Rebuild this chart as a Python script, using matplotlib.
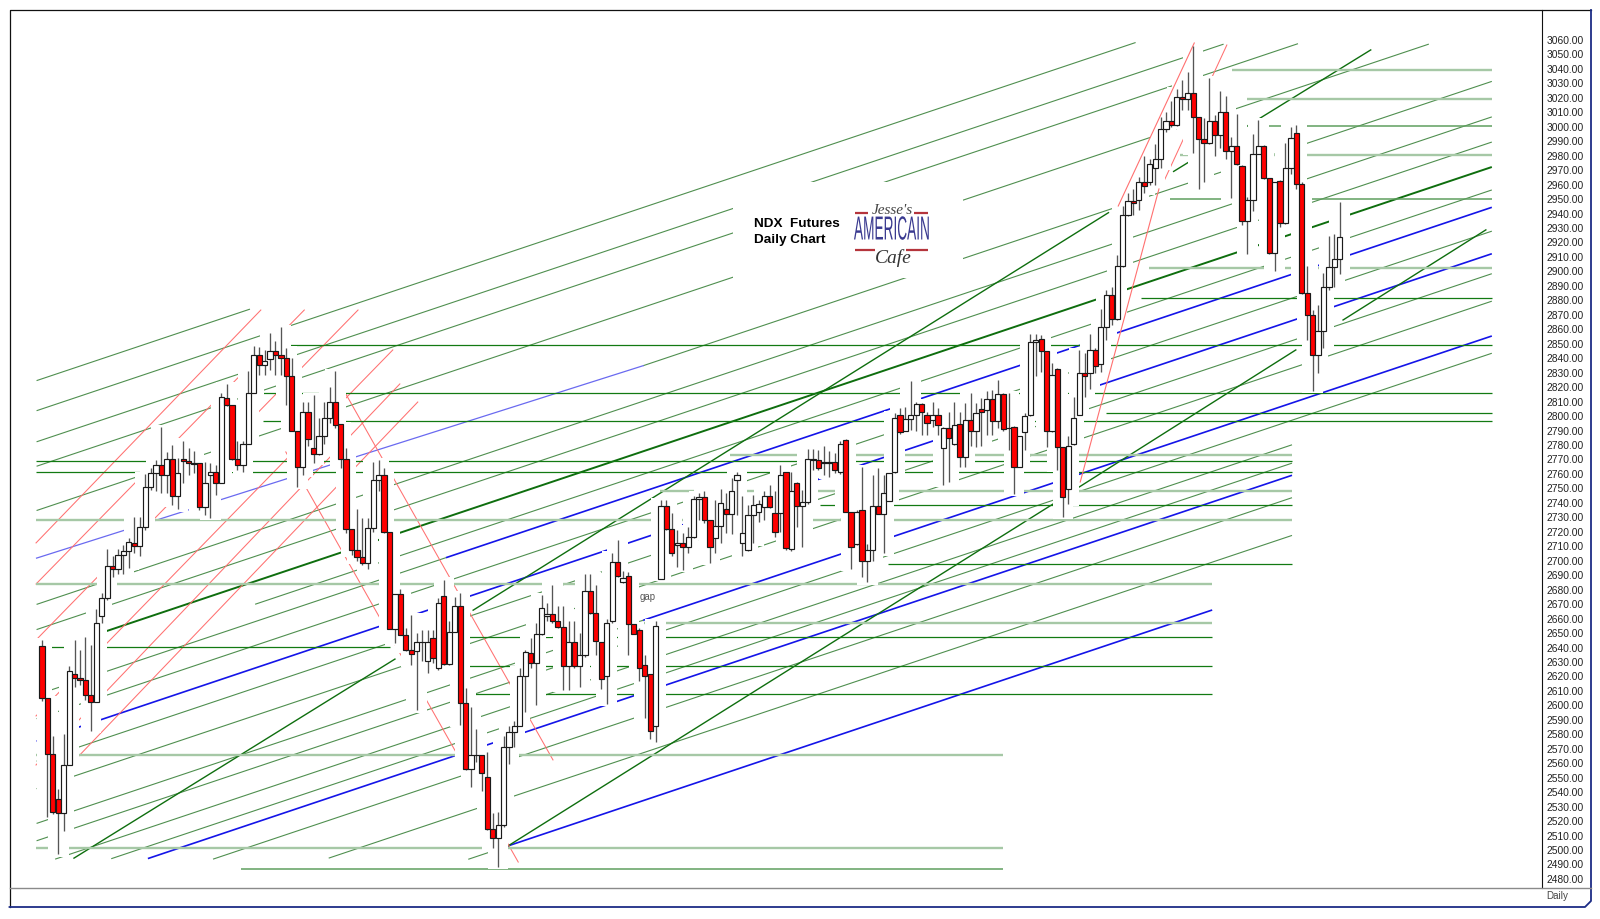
import numpy as np
import matplotlib
matplotlib.use('Agg')
import matplotlib.pyplot as plt
from matplotlib.patches import Rectangle
from matplotlib.patheffects import AbstractPathEffect
from matplotlib.transforms import Affine2D

plt.rcParams['font.family'] = ['Liberation Sans', 'DejaVu Sans']

# daily candles
opens = [2641, 2605, 2566.5, 2535, 2525.5, 2559, 2621.5, 2619, 2617.5, 2607,
         2602.5, 2662, 2674, 2696.5, 2694.5, 2704, 2706.5, 2712.5, 2710.5, 2723,
         2751, 2760.5, 2766, 2759, 2770.5, 2744.5, 2770, 2769, 2767.5, 2767.5,
         2737, 2759.5, 2761.5, 2754, 2812.5, 2807.5, 2770, 2766.5, 2781, 2816,
         2842, 2835, 2839.5, 2845, 2842.5, 2840, 2827.5, 2789.5, 2765, 2803,
         2778, 2774, 2786, 2798.5, 2809.5, 2794.5, 2770, 2722, 2707.5, 2702.5,
         2698.5, 2722.5, 2755.5, 2759, 2720, 2652.5, 2677, 2648.5, 2638, 2637.5,
         2644, 2631, 2646.5, 2625.5, 2675.5, 2628.5, 2651, 2668.5, 2601.5, 2556,
         2566, 2566, 2550.5, 2514.5, 2508, 2517, 2571.5, 2581.5, 2586, 2620,
         2636.5, 2629, 2649.5, 2662, 2663.5, 2658, 2654.5, 2627, 2644, 2627,
         2634.5, 2679, 2664, 2643.5, 2620.5, 2658, 2699, 2685, 2689.5, 2656,
         2652, 2628, 2622, 2586, 2687.5, 2737.5, 2722, 2711, 2712.5, 2709.5,
         2716.5, 2743, 2744, 2728, 2716, 2724, 2735.5, 2732.5, 2756, 2712,
         2707.5, 2731.5, 2734, 2737, 2744.5, 2733, 2733, 2761, 2708, 2754,
         2738, 2740.5, 2769.5, 2769.5, 2767.5, 2767.5, 2768, 2761.5, 2783.5, 2734,
         2711.5, 2735, 2699.5, 2707.5, 2738, 2732.5, 2741, 2761, 2800.5, 2790,
         2798, 2801, 2808, 2801, 2797.5, 2801, 2778, 2792, 2781, 2794.5,
         2772, 2797, 2790, 2805, 2804, 2812, 2796.5, 2815, 2791.5, 2792.5,
         2765, 2789, 2800.5, 2851, 2853, 2845, 2789.5, 2832.5, 2778.5, 2749.5,
         2780.5, 2801, 2829.5, 2829.5, 2845.5, 2836, 2861.5, 2883.5, 2867, 2904,
         2939, 2949, 2949.5, 2961.5, 2961.5, 2971.5, 2977.5, 2998.5, 3004, 3001,
         3020.5, 3019.5, 3023, 3007, 2991.5, 2988.5, 3004, 2994.5, 3010.5, 2983,
         2986.5, 2973, 2935, 2949.5, 2981.5, 2986.5, 2964.5, 2912.5, 2962.5, 2933.5,
         2971.5, 2996, 2960.5, 2885, 2870, 2842.5, 2859, 2889.5, 2903, 2908.5]
highs = [2645, 2605, 2579, 2542, 2580, 2627, 2645, 2638, 2647, 2642,
         2666.5, 2677.5, 2708, 2703, 2708, 2711, 2715.5, 2730, 2730.5, 2760,
         2764, 2769.5, 2792.5, 2775, 2780, 2771, 2783, 2778, 2775.5, 2767.5,
         2768.5, 2767.5, 2766, 2816, 2822, 2807.5, 2783, 2783, 2831, 2848.5,
         2848, 2845.5, 2857.5, 2852, 2861.5, 2847, 2840, 2789.5, 2810, 2810,
         2814.5, 2798.5, 2810, 2820, 2831, 2794.5, 2778, 2722, 2735.5, 2729.5,
         2729.5, 2768, 2769.5, 2764, 2720, 2677, 2680.5, 2653.5, 2662.5, 2650,
         2652, 2652, 2652, 2674, 2687, 2658.5, 2675, 2677.5, 2612, 2599,
         2584, 2566, 2568, 2525.5, 2526, 2578.5, 2585.5, 2589, 2625.5, 2638.5,
         2646.5, 2657, 2676.5, 2671, 2683.5, 2668.5, 2668.5, 2658, 2658, 2650,
         2691, 2691, 2683.5, 2644, 2660, 2705, 2714, 2693, 2692, 2656,
         2653.5, 2635, 2622, 2658.5, 2742, 2742, 2733, 2721.5, 2719.5, 2723.5,
         2744.5, 2746.5, 2748.5, 2728, 2742, 2749.5, 2746.5, 2757, 2761.5, 2744.5,
         2738.5, 2745.5, 2742, 2748, 2752.5, 2748, 2766, 2761.5, 2761.5, 2754.5,
         2749, 2777.5, 2777.5, 2776.5, 2779, 2775.5, 2774.5, 2782.5, 2784, 2734,
         2735, 2765, 2711.5, 2759.5, 2764, 2759.5, 2760.5, 2802, 2805.5, 2806.5,
         2824, 2810, 2809, 2803, 2810, 2805.5, 2792.5, 2803, 2810, 2803,
         2809, 2816, 2809, 2812.5, 2817, 2818, 2825, 2816, 2816, 2793,
         2786, 2802, 2857, 2857, 2856, 2845, 2836.5, 2833, 2778.5, 2786,
         2813.5, 2845.5, 2843.5, 2857, 2847, 2874, 2887, 2889, 2911.5, 2945.5,
         2954, 2957, 2965.5, 2979.5, 2977.5, 2988, 3006.5, 3010.5, 3017.5, 3026,
         3032.5, 3037.5, 3055.5, 3007, 3006, 3033.5, 3008, 3024.5, 3021, 2993,
         3009, 2973.5, 2951.5, 2995, 3004.5, 2987.5, 2964.5, 2962, 2963, 2988.5,
         3000, 3001, 2962, 2903.5, 2873.5, 2877, 2899, 2924.5, 2926, 2948]
lows = [2603, 2523, 2525, 2497, 2513, 2559, 2612.5, 2614, 2604, 2582.5,
        2602.5, 2657, 2673, 2689, 2691, 2691, 2695, 2705, 2703, 2721,
        2749, 2748, 2747, 2747, 2738.5, 2735.5, 2754, 2759.5, 2760.5, 2735,
        2731.5, 2729.5, 2745.5, 2754, 2807, 2769.5, 2762.5, 2761.5, 2781, 2816,
        2828.5, 2828.5, 2832, 2828.5, 2828.5, 2807.5, 2789.5, 2751, 2759.5, 2779,
        2767.5, 2773, 2781, 2795, 2791.5, 2764, 2719, 2704, 2699.5, 2697,
        2694, 2720, 2748, 2719, 2652.5, 2643, 2648.5, 2637.5, 2628, 2596.5,
        2630.5, 2622.5, 2629, 2624.5, 2628, 2628, 2651, 2586.5, 2555.5, 2543.5,
        2561, 2540.5, 2514, 2501.5, 2488.5, 2516, 2559.5, 2571.5, 2585.5, 2595.5,
        2625.5, 2600.5, 2648.5, 2658, 2657, 2653.5, 2610.5, 2610.5, 2625.5, 2612.5,
        2633.5, 2663.5, 2635, 2611, 2601, 2657, 2689, 2684.5, 2634.5, 2649,
        2617, 2591, 2576.5, 2574.5, 2687.5, 2721.5, 2703, 2696, 2693.5, 2705,
        2715.5, 2728, 2726, 2698.5, 2705, 2712, 2719, 2718.5, 2731.5, 2703,
        2706.5, 2712, 2727, 2728, 2736.5, 2716.5, 2720, 2707.5, 2706.5, 2723.5,
        2709.5, 2739.5, 2763, 2763, 2759.5, 2758, 2760.5, 2760, 2733.5, 2694.5,
        2711, 2689, 2685, 2700, 2732.5, 2705, 2741, 2760.5, 2787.5, 2789.5,
        2790.5, 2789.5, 2787, 2787, 2792.5, 2787, 2752.5, 2754.5, 2780, 2765,
        2765, 2779, 2778.5, 2779.5, 2787, 2787, 2791.5, 2790, 2776.5, 2746,
        2764.5, 2776.5, 2800, 2827.5, 2830.5, 2778.5, 2789, 2763, 2730, 2739.5,
        2780, 2800.5, 2813.5, 2819, 2829.5, 2830.5, 2852.5, 2863, 2866.5, 2903,
        2938.5, 2939, 2942.5, 2954, 2960, 2960, 2971.5, 2996.5, 3000, 3000.5,
        3011.5, 3011.5, 2982, 2957, 2962, 2988, 2980, 2985, 2978, 2951,
        2973.5, 2932, 2912, 2941.5, 2981, 2964, 2912, 2900.5, 2930.5, 2933,
        2967.5, 2957, 2884.5, 2852.5, 2817.5, 2830, 2847, 2887, 2889.5, 2898]
closes = [2605, 2566.5, 2526, 2525.5, 2559, 2623.5, 2619, 2617.5, 2607, 2602.5,
          2657, 2674, 2696.5, 2694.5, 2704, 2706.5, 2713, 2710.5, 2723, 2751,
          2760.7, 2766, 2759, 2770.5, 2744.5, 2760.5, 2769, 2767.5, 2767, 2737,
          2753.5, 2761.5, 2754, 2813, 2807.5, 2770, 2766.5, 2781, 2816, 2842,
          2835, 2838, 2845, 2842.5, 2840, 2827.5, 2789.5, 2765, 2803, 2784,
          2774, 2786, 2798.5, 2809.5, 2794, 2770, 2722, 2707.5, 2702.5, 2698.5,
          2722.5, 2755.5, 2759, 2720, 2652.5, 2677, 2648.5, 2638, 2635.5, 2644,
          2644, 2644, 2632.5, 2671, 2628.5, 2651, 2668.5, 2601.5, 2556, 2566,
          2566, 2553.5, 2514.5, 2508, 2517, 2571.5, 2581.5, 2586, 2620, 2637,
          2629, 2649.5, 2667.5, 2663.5, 2658, 2654.5, 2627, 2644, 2627, 2634.5,
          2679, 2664, 2644.5, 2618.5, 2657, 2699, 2689.5, 2688, 2656, 2649,
          2626, 2620.5, 2582, 2655, 2737.5, 2722, 2705, 2712.5, 2709.5, 2716.5,
          2742.5, 2744, 2728, 2709.5, 2724, 2740, 2732.5, 2748, 2759.5, 2719,
          2731.5, 2738.5, 2739.5, 2744.5, 2737, 2720, 2759, 2708.5, 2748, 2738,
          2740.5, 2770.5, 2770.5, 2764, 2768.5, 2768, 2762.5, 2780.5, 2734, 2709.5,
          2734, 2699.5, 2707.5, 2738, 2732.5, 2746.5, 2760.5, 2799, 2789, 2798,
          2801, 2808, 2803, 2795.5, 2801, 2794, 2792, 2784.5, 2793.5, 2772,
          2797, 2790, 2802, 2803, 2812, 2796.5, 2815, 2791, 2792, 2765,
          2786, 2800, 2851, 2852.5, 2845, 2789.5, 2828.5, 2778.5, 2744, 2779,
          2798.5, 2829.5, 2828, 2845.5, 2834.5, 2861.5, 2883.5, 2867, 2904, 2939,
          2949, 2947.5, 2961.5, 2959, 2974.5, 2977.5, 2998.5, 3004, 3001, 3020.5,
          3019, 3023, 3007, 2991.5, 2988.5, 3004, 2994.5, 3010.5, 2983, 2986.5,
          2974.5, 2935, 2949.5, 2981.5, 2986.5, 2964.5, 2912.5, 2961.5, 2933.5, 2971.5,
          2992.5, 2960.5, 2885, 2870, 2842.5, 2859, 2889.5, 2903, 2908.5, 2923.5]

y_ticks = list(range(2480, 3070, 10))

# parallel channel lines: start bar, start price, end bar
channel_slope = 1.2575
thin_bar0 = [-1, -1, -1, -1, -1, 110.7, -1, -1, 39.25, -1, -1, -1, -1, -1, -1,
             2.42, 12.75, 31.5, 52.8, 78.5]
thin_price0 = [2824.5, 2803.7, 2782.2, 2765.3, 2734.7, 2834.8, 2669.8, 2652.4, 2669.9,
               2607.3, 2590.8, 2561.4, 2542.4, 2518.4, 2506.4,
               2493.7, 2494.0, 2493.7, 2494.4, 2493.6]
thin_bar1 = [38.3, 201.4, 217.6, 231.3, 255.4, 267, 267, 267, 267,
             74.4, 267, 267, 267, 110.7, 267,
             230.2, 230.2, 230.2, 230.2, 85.7]
blue_bar0 = [74.4, -1, 110.7, 19.5, 85.7]
blue_price0 = [2702.1, 2575.2, 2658.8, 2494.1, 2502.7]
blue_bar1 = [267, 267, 267, 230.2, 215.5]
heavy_bar0 = [11.6]
heavy_price0 = [2651]
heavy_bar1 = [267]

# lines that do not follow the channel angle: bar0, price0, bar1, price1
faint_blue = [(-1, 2701.8, 110.7, 2834.8)]
steep_green = [(5.89, 2494.4, 65.0, 2632), (85.85, 2502.9, 186.2, 2739.2),
               (79.4, 2665.8, 196.4, 2940.6), (190.9, 2750.7, 230.9, 2845.7),
               (208.4, 2969.1, 244.7, 3053.1), (239.6, 2866.4, 265.9, 2928.7)]
red_lines = [(-1.1, 2712.3, 40.3, 2873.3), (-1.1, 2683.9, 48.3, 2873.3),
             (-1.1, 2645.2, 58.2, 2873.3), (-1.1, 2592.7, 64.6, 2845.7),
             (-1.1, 2558.8, 65.9, 2822.2), (6.6, 2564.3, 69.2, 2809.7),
             (54.5, 2824.9, 94.1, 2562.3), (44.9, 2775.2, 87.7, 2491.7),
             (206.3, 2959.8, 218.2, 3056.5)]
red_rally = [(191.2, 2754.4, 205.7, 2957), (198.2, 2945.2, 212.2, 3057.9)]

# horizontal levels
dark_levels = [2849.1, 2815.9, 2801.9, 2796.4, 2881.6, 2768.6, 2761.6,
               2738.2, 2697.5, 2647.6, 2640.2, 2626.9, 2607.7]
dark_bar0 = [37, 40.7, 196, 40.7, 202.4, -1.1, -1.1,
             143.3, 155.8, 78.5, 1.1, 78.3, 79.2]
dark_bar1 = [267, 267, 267, 267, 267, 230.2, 230.2,
             230.2, 230.2, 215.5, 64.1, 215.5, 215.5]
mid_levels = [3000.5, 2949.9, 2486.6]
mid_bar0 = [221.2, 207.7, 36.6]
mid_bar1 = [267, 267, 177]
light_levels = [3039.3, 3019.2, 2980.5, 2902.4, 2773.1, 2748.2, 2728.2, 2683.7, 2656.7,
                2565.7, 2501.4]
light_bar0 = [219.2, 221.9, 209.6, 203.9, 126.7, 113.8, -1.1, -1.1, 104.6, -1.1, -1.1]
light_bar1 = [267, 267, 267, 267, 230.2, 230.2, 230.2, 215.5, 215.5, 177, 177]


class Squeeze(AbstractPathEffect):
    # condensed lettering for the logo word
    def __init__(self, cx, cy, sx, sy):
        super().__init__()
        self.t = Affine2D().translate(-cx, -cy).scale(sx, sy).translate(cx, cy)

    def draw_path(self, renderer, gc, tpath, affine, rgbFace=None):
        renderer.draw_path(gc, tpath, affine + self.t, rgbFace)


fig = plt.figure(figsize=(16, 9.19), dpi=100, facecolor='white')
ax = fig.add_axes([10 / 1600, 1 - 887.5 / 919, 1532 / 1600, 877.5 / 919])
ax.set_xlim(-5.893, 276.24)
ax.set_ylim(2474.1, 3080.7)

green = '#4f8f4f'


def channel(bar0, price0, bar1, color, lw):
    for b0, p0, b1 in zip(bar0, price0, bar1):
        ax.plot([b0, b1], [p0, p0 + channel_slope * (b1 - b0)], color=color, lw=lw,
                solid_capstyle='butt', zorder=1)


channel(thin_bar0, thin_price0, thin_bar1, green, 0.8)
channel(blue_bar0, blue_price0, blue_bar1, '#1414e8', 1.2)
channel(heavy_bar0, heavy_price0, heavy_bar1, '#0e6e0e', 1.4)
for b0, p0, b1, p1 in faint_blue:
    ax.plot([b0, b1], [p0, p1], color='#6a6af0', lw=0.9, zorder=1)
for b0, p0, b1, p1 in steep_green:
    ax.plot([b0, b1], [p0, p1], color='#0e6e0e', lw=1.0, zorder=1)
for b0, p0, b1, p1 in red_lines:
    ax.plot([b0, b1], [p0, p1], color='#ff7070', lw=0.75, zorder=1)
ax.hlines(dark_levels, dark_bar0, dark_bar1, color='#127a12', lw=0.9, zorder=1)
ax.hlines(mid_levels, mid_bar0, mid_bar1, color='#5f9f5f', lw=1.1, zorder=1)
ax.hlines(light_levels, light_bar0, light_bar1, color='#a6c8a6', lw=1.7, zorder=1)

x = np.arange(len(opens))
opens = np.array(opens)
closes = np.array(closes)
highs = np.array(highs)
lows = np.array(lows)

# the platform blanks the studies around each candle and behind the pasted logo
ax.bar(x, highs - lows + 3, bottom=lows - 1.5, width=3.8, color='white', lw=0, zorder=2)
ax.add_patch(Rectangle((127.2, 2895.7), 42.4, 66.4, color='white', lw=0, zorder=2))

# these two run right alongside the candles and are not blanked
for b0, p0, b1, p1 in red_rally:
    ax.plot([b0, b1], [p0, p1], color='#ff7070', lw=0.8, zorder=2.5)

ax.vlines(x, lows, highs, color='#555555', lw=0.95, zorder=3)
body_low = np.minimum(opens, closes)
body_h = np.abs(opens - closes)
colors = ['#ff0000' if c < o else 'white' for o, c in zip(opens, closes)]
ax.bar(x, body_h, bottom=body_low, width=0.96, color=colors, edgecolor='#1a1a1a',
       linewidth=0.85, zorder=4)

ax.yaxis.tick_right()
ax.set_yticks(y_ticks)
ax.set_yticklabels(['%.2f' % v for v in y_ticks], fontsize=7.4, color='#222222')
ax.tick_params(axis='y', length=0, pad=3)
ax.set_xticks([])
for side in ['top', 'left', 'bottom']:
    ax.spines[side].set_visible(False)
ax.spines['right'].set_color('#111111')
ax.spines['right'].set_linewidth(0.8)

# overlay in image pixels for frame, captions and logo
ov = fig.add_axes([0, 0, 1, 1], facecolor='none')
ov.set_xlim(0, 1600)
ov.set_ylim(919, 0)
ov.axis('off')
ov.plot([9.5, 9.5, 1591], [907, 10, 10], color='#111111', lw=0.9)
ov.plot([1591, 1591, 1585, 9.5], [10, 901, 907, 907], color='#1c2c86', lw=1.3)
ov.plot([10, 1591], [887.5, 887.5], color='#8a8a8a', lw=1.0)
ov.text(1557, 896, 'Daily', fontsize=7.1, color='#444444', ha='center', va='center')

ov.text(754, 232, 'NDX  Futures\nDaily Chart', fontsize=9.7, fontweight='bold', color='black',
        va='center', linespacing=1.35)
ov.text(640, 597, 'gap', fontsize=6.9, color='#555555', va='center')

ov.text(892, 210, "Jesse's", fontsize=11, style='italic', family=['Liberation Serif', 'DejaVu Serif'],
        color='#444444', ha='center', va='center')
ov.text(892, 231, 'AMERICAIN', fontsize=24, color='#3a3a90', ha='center', va='center',
        path_effects=[Squeeze(892, 919 - 231, 0.41, 1.0)])
ov.text(893, 258, 'Cafe', fontsize=14, style='italic', family=['Liberation Serif', 'DejaVu Serif'],
        color='#333333', ha='center', va='center')
for x0, x1, yy in [(855, 868, 213), (914, 928, 213), (855, 875, 250), (906, 928, 250)]:
    ov.plot([x0, x1], [yy, yy], color='#b5353c', lw=1.6, solid_capstyle='butt')

fig.savefig('out.png', dpi=100)
plt.close()
